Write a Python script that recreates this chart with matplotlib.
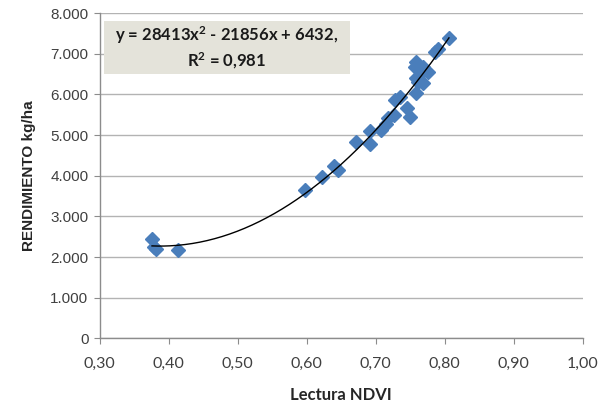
import numpy as np
import matplotlib
matplotlib.use('Agg')
import matplotlib.pyplot as plt
from matplotlib.patches import Rectangle

# NDVI readings vs yield (kg/ha)
ndvi = [0.376, 0.382, 0.379, 0.413, 0.598, 0.622, 0.639, 0.646,
        0.672, 0.691, 0.692, 0.708, 0.715, 0.718, 0.727, 0.728,
        0.735, 0.745, 0.749, 0.759, 0.759, 0.769, 0.761, 0.766,
        0.776, 0.757, 0.769, 0.759, 0.786, 0.790, 0.806]
rendimiento = [2438, 2192, 2241, 2185, 3653, 3958, 4236, 4130,
               4828, 4786, 5106, 5123, 5271, 5419, 5493, 5862,
               5943, 5658, 5451, 6030, 6397, 6273, 6313, 6520,
               6559, 6682, 6682, 6805, 7052, 7118, 7397]

x_ticks = [0.30, 0.40, 0.50, 0.60, 0.70, 0.80, 0.90, 1.00]
x_tick_labels = ['0,30', '0,40', '0,50', '0,60', '0,70', '0,80', '0,90', '1,00']
y_ticks = [0, 1000, 2000, 3000, 4000, 5000, 6000, 7000, 8000]
y_tick_labels = ['0', '1.000', '2.000', '3.000', '4.000', '5.000',
                 '6.000', '7.000', '8.000']

eq_text = 'y = 28413x$^2$ - 21856x + 6432,\nR$^2$ = 0,981'

# superscripts drawn in the same bold face as the equation
plt.rcParams['mathtext.fontset'] = 'custom'
plt.rcParams['mathtext.rm'] = 'Lato:bold'
plt.rcParams['mathtext.it'] = 'Lato:bold'
plt.rcParams['mathtext.bf'] = 'Lato:bold'

fig = plt.figure(figsize=(6.05, 4.12), dpi=100)
ax = fig.add_axes([0.1645, 0.1784, 0.799, 0.790])

ax.set_xlim(0.30, 1.00)
ax.set_ylim(0, 8000)

# horizontal gridlines only
ax.set_axisbelow(True)
ax.yaxis.grid(True, color='#b3b3b3', linewidth=1.0)

x = np.array(ndvi)
y = np.array(rendimiento)
ax.plot(x, y, linestyle='none', marker='D', markersize=6.8,
        color='#4a7ebb', zorder=3)

# polynomial trend line (order 2)
coef = np.polyfit(x, y, 2)
xs = np.linspace(x.min(), x.max(), 200)
ax.plot(xs, np.polyval(coef, xs), color='black', linewidth=1.0, zorder=4)

for side in ('top', 'right'):
  ax.spines[side].set_visible(False)
for side in ('left', 'bottom'):
  ax.spines[side].set_color('#8c8c8c')
  ax.spines[side].set_linewidth(1.0)

ax.set_xticks(x_ticks)
ax.set_xticklabels(x_tick_labels, family='Lato', fontsize=11.5, color='#404040')
ax.set_yticks(y_ticks)
ax.set_yticklabels(y_tick_labels, family='Liberation Sans', fontsize=11, color='#404040')
ax.tick_params(axis='both', length=4, color='#8c8c8c', direction='out')
ax.tick_params(axis='x', pad=9)
ax.tick_params(axis='y', pad=4)

ax.set_xlabel('Lectura NDVI', family='Lato', fontweight='bold', fontsize=12,
              color='#262626', labelpad=12)
ax.set_ylabel('RENDIMIENTO kg/ha', family='Liberation Sans', fontweight='bold',
              fontsize=11, color='#262626', labelpad=10)

# equation box
ax.add_patch(Rectangle((0.0093, 0.8126), 0.5087, 0.1628, transform=ax.transAxes,
                       facecolor='#e4e3da', edgecolor='none', zorder=5))
ax.text(0.2637, 0.894, eq_text, transform=ax.transAxes, ha='center', va='center',
        family='Lato', fontweight='bold', fontsize=12, color='#1a1a1a',
        linespacing=1.3, zorder=6)

plt.savefig('out.png', dpi=100)
